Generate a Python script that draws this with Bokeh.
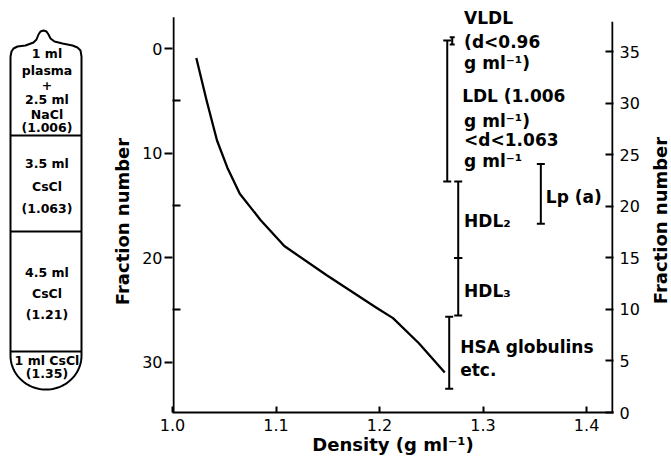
import math
import numpy as np
from bokeh.plotting import figure
from bokeh.layouts import row
from bokeh.models import Range1d, LinearAxis, FixedTicker, Label
from bokeh.embed import file_html
from bokeh.resources import INLINE
from bokeh.core.properties import value

# ---------------- data ----------------
density = [1.023, 1.033, 1.043, 1.053, 1.065, 1.085, 1.108, 1.149, 1.197, 1.213, 1.238, 1.263]
fraction = [0.9, 5.0, 8.8, 11.4, 13.9, 16.4, 18.9, 21.7, 24.8, 25.8, 28.2, 31.0]

x_ticks = [1.0, 1.1, 1.2, 1.3, 1.4]
x_tick_labels = ["1.0", "1.1", "1.2", "1.3", "1.4"]
left_ticks = [0, 10, 20, 30]
left_minor_ticks = [5, 15, 25]
right_ticks = [0, 5, 10, 15, 20, 25, 30, 35]

# brackets: fraction numbers on the right-hand scale
bracket_names = ["VLDL", "LDL", "HDL2", "HDL3", "HSA", "Lp(a)"]
bracket_top = [36.4, 36.1, 22.4, 15.0, 9.3, 24.1]
bracket_bottom = [35.7, 22.4, 15.0, 9.4, 2.3, 18.3]

# tube contents
tube_sections = [
    ["1 ml", "plasma", "+", "2.5 ml", "NaCl", "(1.006)"],
    ["3.5 ml", "CsCl", "(1.063)"],
    ["4.5 ml", "CsCl", "(1.21)"],
    ["1 ml CsCl", "(1.35)"],
]

# ---------------- layout constants ----------------
FONT = "DejaVu Sans"
bracket_x = [1.2702, 1.2654, 1.2760, 1.2760, 1.2673, 1.3558]
bracket_cap = [5, 8, 8, 8, 8, 8]

label_lines = ["VLDL", "(d<0.96", "g ml\u207b\u00b9)", "LDL (1.006", "g ml\u207b\u00b9)",
               "<d<1.063", "g ml\u207b\u00b9", "Lp (a)", "HDL\u2082", "HDL\u2083",
               "HSA globulins", "etc."]
label_x = [1.2817, 1.2817, 1.2817, 1.2798, 1.2817, 1.2817, 1.2817, 1.3606,
           1.2817, 1.2817, 1.2779, 1.2779]
label_y = [38.26, 35.98, 33.95, 30.70, 28.32, 26.48, 24.44, 20.95, 18.53, 11.83, 6.40, 4.17]

# tube geometry (panel pixel coordinates)
tube_left, tube_right = 10, 81
tube_top_profile = [(10, 56), (11, 51), (13, 48), (17, 46), (25, 45), (33, 42), (36, 39),
                    (38, 34), (40, 31), (43, 30), (46, 31), (48, 34), (50, 38), (54, 41),
                    (62, 43), (72, 45), (77, 47), (80, 50), (81, 56)]
tube_bottom_start, tube_bottom_ry = 355, 34
tube_dividers = [135, 231, 351]
tube_text_x = 46.5
tube_text_y = [[53, 70, 85, 99, 114, 127], [163, 186, 208], [272, 293, 314], [360, 373]]

TOP, BOTTOM = 10, 412          # frame top / bottom in page pixels
H = 459
W_TUBE, W_MAIN, W_RT = 135, 507, 29

common = dict(toolbar_location=None, output_backend="svg", height=H,
              min_border_top=TOP, min_border_bottom=H - BOTTOM)

# ---------------- tube panel (+ left axis title) ----------------
pt = figure(width=W_TUBE, x_range=Range1d(0, W_TUBE), y_range=Range1d(BOTTOM, TOP),
            x_axis_location=None, y_axis_location=None,
            min_border_left=0, min_border_right=0, **common)
pt.grid.visible = False
pt.outline_line_color = None

cx = (tube_left + tube_right) / 2
rx = (tube_right - tube_left) / 2
t = np.linspace(0, math.pi, 60)
xs = [q[0] for q in tube_top_profile] + [tube_right] + list(cx + rx * np.cos(t)) + [tube_left, tube_left]
ys = [q[1] for q in tube_top_profile] + [tube_bottom_start] + list(tube_bottom_start + tube_bottom_ry * np.sin(t)) + [tube_bottom_start, 56]
pt.line(xs, ys, line_color="black", line_width=2, line_join="round")
pt.segment(x0=[tube_left] * 3, x1=[tube_right] * 3, y0=tube_dividers, y1=tube_dividers,
           line_color="black", line_width=2)

txt, tx, ty = [], [], []
for sec, ys_ in zip(tube_sections, tube_text_y):
    for s, yy in zip(sec, ys_):
        txt.append(s); tx.append(tube_text_x); ty.append(yy)
pt.text(x=tx, y=ty, text=txt, text_font=value(FONT), text_font_size=value("12.5px"),
        text_font_style="bold", text_align="center", text_baseline="middle", text_color="black")
pt.text(x=[122], y=[221], text=["Fraction number"], angle=math.pi / 2,
        text_font=value(FONT), text_font_size=value("18px"), text_font_style="bold",
        text_align="center", text_baseline="middle", text_color="black")

# ---------------- main plot ----------------
p = figure(width=W_MAIN, x_range=Range1d(1.0, 1.426), y_range=Range1d(34.83, -3.64),
           min_border_left=37, min_border_right=27, **common)
p.extra_y_ranges = {"right": Range1d(0, 39.0)}
p.grid.visible = False
p.outline_line_color = None

xa = p.xaxis[0]
xa.ticker = FixedTicker(ticks=x_ticks)
xa.major_label_overrides = {tk: lb for tk, lb in zip(x_ticks, x_tick_labels)}
xa.major_tick_in = 6
xa.major_tick_out = 0
xa.minor_tick_line_color = None
xa.major_label_standoff = 6
xa.axis_label = "Density (g ml\u207b\u00b9)"
xa.axis_label_standoff = 0
xa.axis_label_text_font = FONT
xa.axis_label_text_font_size = "18px"
xa.axis_label_text_font_style = "bold"
xa.axis_label_text_color = "black"

ya = p.yaxis[0]
ya.ticker = FixedTicker(ticks=left_ticks, minor_ticks=left_minor_ticks)
ya.major_tick_in = 0
ya.major_tick_out = 8
ya.minor_tick_in = 8
ya.minor_tick_out = 0
ya.major_label_standoff = 2
ya.axis_line_color = None

ra = LinearAxis(y_range_name="right", ticker=FixedTicker(ticks=right_ticks))
ra.major_tick_in = 8
ra.major_tick_out = 0
ra.minor_tick_line_color = None
ra.major_label_standoff = 6
ra.axis_line_color = None
p.add_layout(ra, "right")

for ax in [xa, ya, ra]:
    ax.axis_line_width = 2
    ax.major_tick_line_width = 2
    ax.minor_tick_line_width = 2
    ax.major_tick_line_color = "black"
    ax.major_label_text_font = FONT
    ax.major_label_text_font_size = "16px"
    ax.major_label_text_color = "black"
xa.axis_line_color = "black"
ya.minor_tick_line_color = "black"

# vertical axis lines (they stop below the top of the frame, as in the original)
p.segment(x0=[1.001], x1=[1.001], y0=[-3.0], y1=[34.83], line_color="black", line_width=2)
p.segment(x0=[1.425], x1=[1.425], y0=[0], y1=[37.9], line_color="black", line_width=2,
          y_range_name="right")

p.line(density, fraction, line_color="black", line_width=2.3, line_join="round")

# brackets
p.segment(x0=bracket_x, x1=bracket_x, y0=bracket_top, y1=bracket_bottom,
          line_color="black", line_width=2, y_range_name="right")
p.scatter(x=bracket_x + bracket_x, y=bracket_top + bracket_bottom, marker="dash",
          size=bracket_cap + bracket_cap, line_color="black", line_width=2, y_range_name="right")

for s, lx, ly in zip(label_lines, label_x, label_y):
    p.add_layout(Label(x=lx, y=ly, text=s, y_range_name="right", text_font=FONT,
                       text_font_size="17px", text_font_style="bold", text_align="left",
                       text_baseline="middle", text_color="black"))

# ---------------- right axis title panel ----------------
prt = figure(width=W_RT, x_range=Range1d(642, 671), y_range=Range1d(BOTTOM, TOP),
             x_axis_location=None, y_axis_location=None,
             min_border_left=0, min_border_right=0, **common)
prt.grid.visible = False
prt.outline_line_color = None
prt.text(x=[660], y=[220], text=["Fraction number"], angle=math.pi / 2,
         text_font=value(FONT), text_font_size=value("18px"), text_font_style="bold",
         text_align="center", text_baseline="middle", text_color="black")

layout = row(pt, p, prt)
open("out.html", "w").write(file_html(layout, INLINE))
